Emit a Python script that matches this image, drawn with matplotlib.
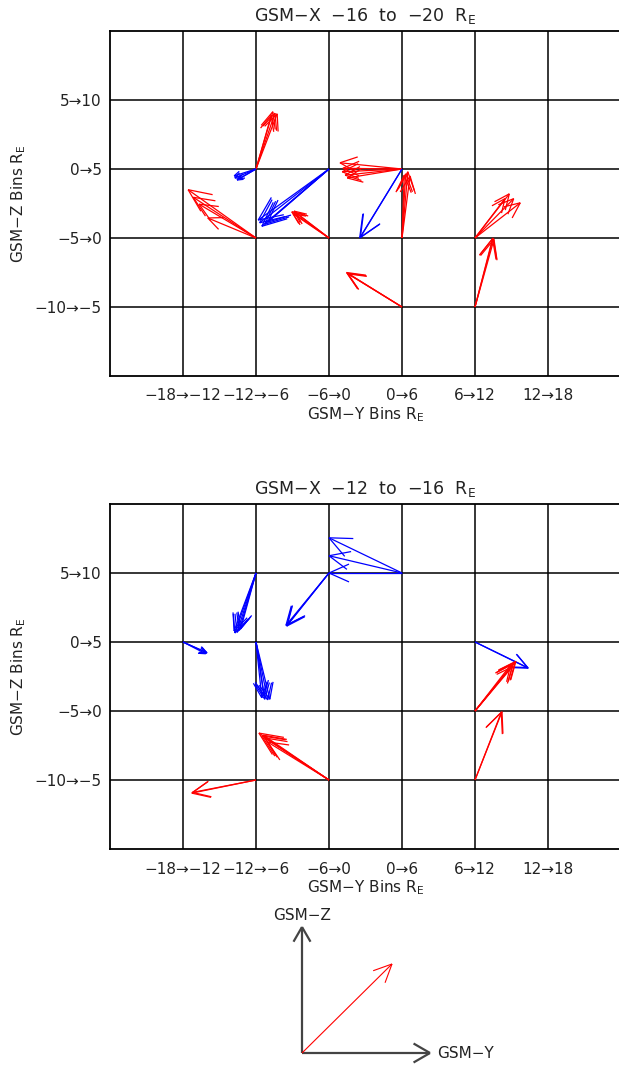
#!/usr/bin/env python3
"""Mean field direction per GSM Y-Z bin, two GSM-X slabs, drawn as open-head arrows."""

import numpy as np
import matplotlib
matplotlib.use("Agg")
import matplotlib.pyplot as plt

W, H, DPI = 619, 1066, 100
RED = "#ff0000"
BLUE = "#0000ff"
TEXT = "#222222"

# bin labels (placed on the grid lines, as in the original plot)
Y_TICK_LABELS = ["−18→−12", "−12→−6", "−6→0", "0→6", "6→12", "12→18"]
Z_TICK_LABELS = ["−10→−5", "−5→0", "0→5", "5→10"]

# arrows, in grid units: origin column / row on the grid, then (dY, dZ)
# panel 1: GSM-X -16 to -20
TOP_COL = [2, 2, 2, 2,  2, 2, 2, 2,  3, 3, 3, 3, 3,  3, 3, 3, 3,  2, 2, 2, 2,
           4, 4, 4, 4, 4,  4, 4,  4, 4, 4, 4,  5, 5, 5, 5,  5, 5, 5,  4, 4, 4]
TOP_ROW = [3, 3, 3, 3,  3, 3, 3, 3,  3, 3, 3, 3, 3,  2, 2, 2, 2,  2, 2, 2, 2,
           3, 3, 3, 3, 3,  3, 3,  2, 2, 2, 2,  2, 2, 2, 2,  1, 1, 1,  1, 1, 1]
TOP_DY = [0.23, 0.26, 0.29, 0.21, -0.29, -0.26, -0.30, -0.23,
          -0.97, -0.95, -0.92, -0.88, -0.84, -0.51, -0.48, -0.49, -0.45,
          -0.93, -0.86, -0.78, -0.66, -0.85, -0.81, -0.82, -0.78, -0.75,
          -0.58, -0.57, 0.08, 0.05, 0.11, 0.03, 0.47, 0.53, 0.62, 0.41,
          0.25, 0.24, 0.26, -0.75, -0.74, -0.76]
TOP_DZ = [0.83, 0.81, 0.80, 0.78, -0.13, -0.16, -0.10, -0.14,
          -0.74, -0.78, -0.83, -0.80, -0.77, 0.38, 0.39, 0.35, 0.36,
          0.70, 0.59, 0.49, 0.29, 0.09, 0.01, -0.04, -0.09, -0.13,
          -1.00, -0.99, 0.96, 0.93, 0.90, 0.91, 0.64, 0.57, 0.51, 0.57,
          1.00, 0.99, 0.98, 0.49, 0.48, 0.50]
TOP_SIGN = ["+"] * 4 + ["-"] * 4 + ["-"] * 5 + ["+"] * 4 + ["+"] * 4 + ["+"] * 5 + \
           ["-"] * 2 + ["+"] * 4 + ["+"] * 4 + ["+"] * 3 + ["+"] * 3

# panel 2: GSM-X -12 to -16
BOT_COL = [4, 4, 4,  3, 3, 3,  2, 2, 2, 2, 2,  1, 1, 1,  2, 2, 2, 2, 2,  5, 5,
           5, 5, 5, 5, 5,  5, 5,  3, 3, 3, 3, 3,  2, 2]
BOT_ROW = [4, 4, 4,  4, 4, 4,  4, 4, 4, 4, 4,  3, 3, 3,  3, 3, 3, 3, 3,  3, 3,
           2, 2, 2, 2, 2,  1, 1,  1, 1, 1, 1, 1,  1, 1]
BOT_DY = [-1.00, -1.00, -1.00, -0.58, -0.57, -0.59,
          -0.29, -0.30, -0.26, -0.23, -0.21, 0.33, 0.32, 0.31,
          0.08, 0.12, 0.16, 0.19, 0.11, 0.73, 0.72,
          0.55, 0.52, 0.49, 0.56, 0.51, 0.37, 0.36,
          -0.96, -0.92, -0.88, -0.84, -0.90, -0.88, -0.87]
BOT_DZ = [0.51, 0.25, 0.00, -0.77, -0.75, -0.76,
          -0.87, -0.84, -0.86, -0.83, -0.81, -0.16, -0.15, -0.17,
          -0.81, -0.83, -0.84, -0.83, -0.78, -0.38, -0.37,
          0.71, 0.68, 0.67, 0.72, 0.64, 0.99, 0.98,
          0.68, 0.64, 0.61, 0.55, 0.65, -0.19, -0.18]
BOT_SIGN = ["-"] * 21 + ["+"] * 14

PANELS = [
    ("GSM−X  −16  to  −20  R$_\\mathregular{E}$", TOP_COL, TOP_ROW, TOP_DY, TOP_DZ, TOP_SIGN),
    ("GSM−X  −12  to  −16  R$_\\mathregular{E}$", BOT_COL, BOT_ROW, BOT_DY, BOT_DZ, BOT_SIGN),
]


def open_arrow(ax, x0, y0, x1, y1, color, lw, head_frac=0.3, head_len=None, angle=24):
    """Shaft plus two barbs; barbs are built in display space so the angle is true."""
    to_px = ax.transData.transform
    to_data = ax.transData.inverted().transform
    p0 = to_px((x0, y0))
    p1 = to_px((x1, y1))
    v = p0 - p1
    length = np.hypot(*v)
    if length == 0:
        return
    hl = head_len if head_len is not None else head_frac * length
    u = v / length
    a = np.radians(angle)
    barbs = []
    for s in (1, -1):
        c, sn = np.cos(s * a), np.sin(s * a)
        r = np.array([u[0] * c - u[1] * sn, u[0] * sn + u[1] * c])
        barbs.append(to_data(p1 + hl * r))
    ax.plot([x0, x1], [y0, y1], color=color, lw=lw, solid_capstyle="butt")
    for b in barbs:
        ax.plot([x1, b[0]], [y1, b[1]], color=color, lw=lw, solid_capstyle="butt")


def style_panel(ax, title):
    ax.set_xlim(0, 7)
    ax.set_ylim(0, 5)
    ax.set_xticks(np.arange(1, 7))
    ax.set_xticklabels(Y_TICK_LABELS)
    ax.set_yticks(np.arange(1, 5))
    ax.set_yticklabels(Z_TICK_LABELS)
    ax.tick_params(length=0, labelsize=11, colors=TEXT, pad=6)
    ax.tick_params(axis="x", pad=9)
    for k in np.arange(1, 7):
        ax.axvline(k, color="black", lw=1.1, zorder=1)
    for k in np.arange(1, 5):
        ax.axhline(k, color="black", lw=1.1, zorder=1)
    for sp in ax.spines.values():
        sp.set_linewidth(1.3)
        sp.set_color("black")
    ax.set_title(title, fontsize=12.5, color=TEXT, pad=7)
    ax.set_xlabel("GSM−Y Bins R$_\\mathregular{E}$", fontsize=11, color=TEXT, labelpad=1)
    ax.set_ylabel("GSM−Z Bins R$_\\mathregular{E}$", fontsize=11, color=TEXT, labelpad=5)


def main():
    plt.rcParams["font.family"] = ["DejaVu Sans"]
    fig = plt.figure(figsize=(W / DPI, H / DPI), dpi=DPI)
    tops = [31, 504]
    for (title, col, row, dy, dz, sign), top in zip(PANELS, tops):
        ax = fig.add_axes([110 / W, 1 - (top + 345) / H, 511 / W, 345 / H])
        style_panel(ax, title)
        for c, r, u, v, s in zip(col, row, dy, dz, sign):
            color = RED if s == "+" else BLUE
            open_arrow(ax, c, r, c + u, r + v, color, lw=0.9)

    # direction key
    key = fig.add_axes([0, 0, 1, 1])
    key.set_xlim(0, W)
    key.set_ylim(H, 0)
    key.axis("off")
    ox, oy = 302, 1053
    open_arrow(key, ox, oy, ox, 927, "#444444", lw=1.6, head_len=17, angle=30)
    open_arrow(key, ox, oy, 430, oy, "#444444", lw=1.6, head_len=19, angle=30)
    open_arrow(key, ox, oy, 392, 964, RED, lw=0.8, head_len=20, angle=25)
    key.text(ox, 915, "GSM−Z", ha="center", va="center", fontsize=11, color=TEXT)
    key.text(437, 1054, "GSM−Y", ha="left", va="center", fontsize=11, color=TEXT)

    fig.savefig("out.png", dpi=DPI)


if __name__ == "__main__":
    main()
